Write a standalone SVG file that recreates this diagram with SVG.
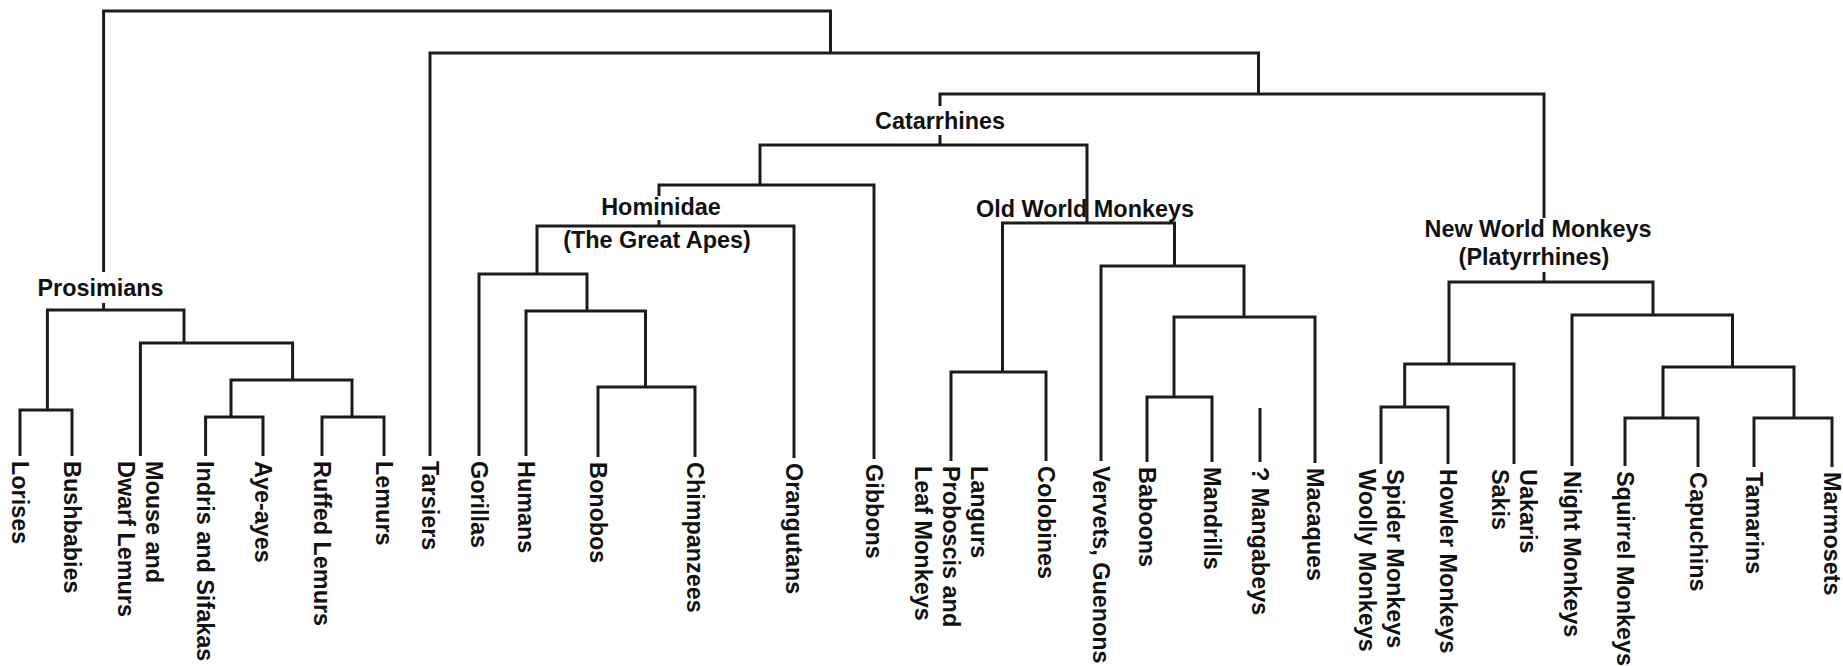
<svg xmlns="http://www.w3.org/2000/svg" width="1843" height="666" viewBox="0 0 1843 666">
<style>
.ln{fill:none;stroke:#1c1c1c;stroke-width:3;stroke-linejoin:miter;stroke-linecap:butt}
.t{font-family:"Liberation Sans",Arial,sans-serif;font-weight:bold;font-size:23.4px;fill:#111}
.c{text-anchor:middle}
</style>
<rect width="1843" height="666" fill="#fff"/>
<g id="connectors" class="ln">
<path d="M103.6 272 V11 H830.5 V53"/>
<path d="M430 456 V53 H1258.5 V94"/>
<path d="M940 106 V94 H1544 V218"/>
<path d="M940 135 V145"/>
<path d="M760 185 V145 H1087 V223"/>
<path d="M659 196 V185 H874 V459"/>
<path d="M659 220 V226"/>
<path d="M537 274 V226 H794 V458"/>
<path d="M479 456 V274 H587 V311"/>
<path d="M526 456 V311 H645.5 V387"/>
<path d="M598 457 V387 H695 V457"/>
<path d="M1002.5 372 V223 H1174.5 V266"/>
<path d="M951 461 V372 H1046 V461"/>
<path d="M1101 461 V266 H1244 V317"/>
<path d="M1174 397 V317 H1315 V463"/>
<path d="M1147 462 V397 H1212 V462"/>
<path d="M1260 408 V462"/>
<path d="M1544 272 V282"/>
<path d="M1449 364 V282 H1653 V315"/>
<path d="M1404.7 407 V364 H1514 V464"/>
<path d="M1381 464 V407 H1448 V464"/>
<path d="M1572 466 V315 H1732.5 V367"/>
<path d="M1663 418 V367 H1794 V418"/>
<path d="M1625 466 V418 H1698 V467"/>
<path d="M1754 467 V418 H1832 V467"/>
<path d="M103.6 303 V310"/>
<path d="M47.4 410 V310 H184 V343"/>
<path d="M20 456 V410 H72 V456"/>
<path d="M140.4 456 V343 H292.6 V380"/>
<path d="M231 417 V380 H352 V417"/>
<path d="M205.6 456 V417 H263 V456"/>
<path d="M322 456 V417 H384 V456"/>
</g>
<g id="group-prosimians"><text class="t c" x="100.5" y="296">Prosimians</text></g>
<g id="group-catarrhines"><text class="t c" x="940" y="129">Catarrhines</text></g>
<g id="group-hominidae"><text class="t c" x="661" y="215">Hominidae</text><text class="t c" x="657" y="248">(The Great Apes)</text></g>
<g id="group-owm"><text class="t c" x="1085" y="217">Old World Monkeys</text></g>
<g id="group-nwm"><text class="t c" x="1538" y="237">New World Monkeys</text><text class="t c" x="1534" y="265">(Platyrrhines)</text></g>
<g id="leaf-lorises"><text class="t" transform="translate(20,461) rotate(90)" y="8.4">Lorises</text></g>
<g id="leaf-bushbabies"><text class="t" transform="translate(72,461) rotate(90)" y="8.4">Bushbabies</text></g>
<g id="leaf-mouse"><text class="t" transform="translate(140.4,461) rotate(90)"><tspan x="0" y="-5.6">Mouse and</tspan><tspan x="0" y="22.4">Dwarf Lemurs</tspan></text></g>
<g id="leaf-indris"><text class="t" transform="translate(205.6,461) rotate(90)" y="8.4">Indris and Sifakas</text></g>
<g id="leaf-ayeayes"><text class="t" transform="translate(263,461) rotate(90)" y="8.4">Aye-ayes</text></g>
<g id="leaf-ruffed"><text class="t" transform="translate(322,461) rotate(90)" y="8.4">Ruffed Lemurs</text></g>
<g id="leaf-lemurs"><text class="t" transform="translate(384,461) rotate(90)" y="8.4">Lemurs</text></g>
<g id="leaf-tarsiers"><text class="t" transform="translate(430,461) rotate(90)" y="8.4">Tarsiers</text></g>
<g id="leaf-gorillas"><text class="t" transform="translate(479,461) rotate(90)" y="8.4">Gorillas</text></g>
<g id="leaf-humans"><text class="t" transform="translate(526,461) rotate(90)" y="8.4">Humans</text></g>
<g id="leaf-bonobos"><text class="t" transform="translate(598,462) rotate(90)" y="8.4">Bonobos</text></g>
<g id="leaf-chimpanzees"><text class="t" transform="translate(695,462) rotate(90)" y="8.4">Chimpanzees</text></g>
<g id="leaf-orangutans"><text class="t" transform="translate(794,463) rotate(90)" y="8.4">Orangutans</text></g>
<g id="leaf-gibbons"><text class="t" transform="translate(874,464) rotate(90)" y="8.4">Gibbons</text></g>
<g id="leaf-langurs"><text class="t" transform="translate(951,466) rotate(90)"><tspan x="0" y="-19.6">Langurs</tspan><tspan x="0" y="8.4">Proboscis and</tspan><tspan x="0" y="36.4">Leaf Monkeys</tspan></text></g>
<g id="leaf-colobines"><text class="t" transform="translate(1046,466) rotate(90)" y="8.4">Colobines</text></g>
<g id="leaf-vervets"><text class="t" transform="translate(1101,466) rotate(90)" y="8.4">Vervets, Guenons</text></g>
<g id="leaf-baboons"><text class="t" transform="translate(1147,467) rotate(90)" y="8.4">Baboons</text></g>
<g id="leaf-mandrills"><text class="t" transform="translate(1212,467) rotate(90)" y="8.4">Mandrills</text></g>
<g id="leaf-mangabeys"><text class="t" transform="translate(1260,467) rotate(90)" y="8.4">? Mangabeys</text></g>
<g id="leaf-macaques"><text class="t" transform="translate(1315,468) rotate(90)" y="8.4">Macaques</text></g>
<g id="leaf-spider"><text class="t" transform="translate(1381,469) rotate(90)"><tspan x="0" y="-5.6">Spider Monkeys</tspan><tspan x="0" y="22.4">Woolly Monkeys</tspan></text></g>
<g id="leaf-howler"><text class="t" transform="translate(1448,469) rotate(90)" y="8.4">Howler Monkeys</text></g>
<g id="leaf-uakaris"><text class="t" transform="translate(1514,469) rotate(90)"><tspan x="0" y="-5.6">Uakaris</tspan><tspan x="0" y="22.4">Sakis</tspan></text></g>
<g id="leaf-night"><text class="t" transform="translate(1572,471) rotate(90)" y="8.4">Night Monkeys</text></g>
<g id="leaf-squirrel"><text class="t" transform="translate(1625,471) rotate(90)" y="8.4">Squirrel Monkeys</text></g>
<g id="leaf-capuchins"><text class="t" transform="translate(1698,472) rotate(90)" y="8.4">Capuchins</text></g>
<g id="leaf-tamarins"><text class="t" transform="translate(1754,472) rotate(90)" y="8.4">Tamarins</text></g>
<g id="leaf-marmosets"><text class="t" transform="translate(1832,472) rotate(90)" y="8.4">Marmosets</text></g>
</svg>
